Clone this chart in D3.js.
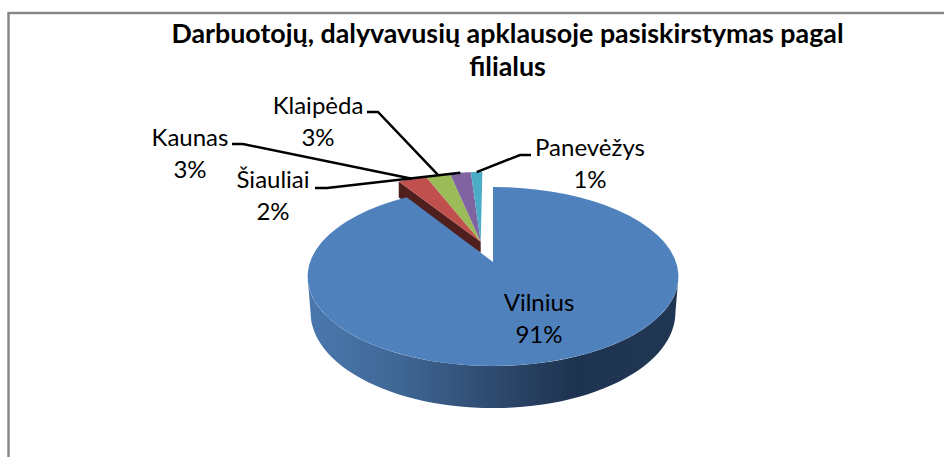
<!DOCTYPE html>
<html>
<head>
<meta charset="utf-8">
<script src="https://cdn.jsdelivr.net/npm/d3@7/dist/d3.min.js"></script>
<style>
html,body{margin:0;padding:0;background:#fff;}
svg{display:block;}
text{font-family:Lato,"Open Sans",sans-serif;fill:#000;}
</style>
</head>
<body>
<svg id="chart" width="944" height="457"></svg>
<script>
const titleLines = ["Darbuotojų, dalyvavusių apklausoje pasiskirstymas pagal", "filialus"];
const categories = ["Vilnius", "Kaunas", "Klaipėda", "Šiauliai", "Panevėžys"];
const values = [91, 3, 2.6, 2.2, 1.2];
const colors = ["#4f81bd", "#c0504d", "#9bbb59", "#8064a2", "#4bacc6"];

const svg = d3.select("#chart");
const cx = 493, persp = -0.162, R = 183;
const topMap = {a: 44.7, b: 262, r: R};
const botMap = {a: 45, b: 297, r: 180};
const explode = 0.25;

function project(u, v, m) {
  const w = 1 + persp * v;
  return [cx + m.r * u / w, (m.a * v + m.b) / w];
}
const pie = d3.pie().sort(null).value(d => d)(values);
const arcs = pie.map((p, i) => ({
  name: categories[i], value: values[i], color: colors[i],
  a0: p.startAngle, a1: p.endAngle, mid: (p.startAngle + p.endAngle) / 2
}));
const small = arcs.slice(1);
const gStart = small[0].a0, gEnd = small[small.length - 1].a1, gMid = (gStart + gEnd) / 2;
const off = [explode * Math.sin(gMid), -explode * Math.cos(gMid)];
const line = d3.line();

function rim(a, m, o) {
  return project(Math.sin(a) + o[0], -Math.cos(a) + o[1], m);
}
function rimPts(a0, a1, m, o) {
  return d3.range(0, 61).map(k => rim(a0 + (a1 - a0) * k / 60, m, o));
}
const main = arcs[0], none = [0, 0];

// chart frame (its right and bottom edges fall outside the picture)
svg.append("rect").attr("x", 8.5).attr("y", 13).attr("width", 960).attr("height", 470)
  .attr("fill", "#fff").attr("stroke", "#868686").attr("stroke-width", 2.4);

// exploded slices: side wall, then top faces
const apex = project(off[0], off[1], topMap);
const corner = rim(gStart, topMap, off);
const wallDepthApex = 11, wallDepthRim = 16;
svg.append("path")
  .attr("d", line([apex, corner, [corner[0], corner[1] + wallDepthRim], [apex[0], apex[1] + wallDepthApex]]) + "Z")
  .attr("fill", "#4f1f1e");
small.forEach(s => {
  svg.append("path")
    .attr("d", line([apex].concat(rimPts(s.a0, s.a1, topMap, off))) + "Z")
    .attr("fill", s.color);
});

// main slice outer wall with gradient
const grad = svg.append("defs").append("linearGradient").attr("id", "wall")
  .attr("gradientUnits", "userSpaceOnUse")
  .attr("x1", 310).attr("x2", 677).attr("y1", 0).attr("y2", 0);
[[0, "#4a78ae"], [0.25, "#3f6694"], [0.5, "#2e4a6e"], [0.72, "#1e3350"], [1, "#203754"]]
  .forEach(s => grad.append("stop").attr("offset", s[0]).attr("stop-color", s[1]));
function extreme(m, sign) {
  const as = d3.range(0, 721).map(k => k * Math.PI / 360);
  return sign > 0 ? d3.greatest(as, a => rim(a, m, none)[0]) : d3.least(as, a => rim(a, m, none)[0]);
}
const wallTop = rimPts(extreme(topMap, 1), extreme(topMap, -1), topMap, none);
const wallBot = rimPts(extreme(botMap, 1), extreme(botMap, -1), botMap, none).reverse();
svg.append("path").attr("d", line(wallTop.concat(wallBot)) + "Z").attr("fill", "url(#wall)");

// main slice top face
svg.append("path")
  .attr("d", line([project(0, 0, topMap)].concat(rimPts(main.a0, main.a1, topMap, none))) + "Z")
  .attr("fill", main.color);

// leader lines: label elbow, then slice rim
const leaders = {
  "Kaunas": [[232, 144], [243, 144]],
  "Klaipėda": [[367, 112], [378, 112]],
  "Šiauliai": [[315, 188], [327, 188]],
  "Panevėžys": [[531, 155], [520, 155]]
};
small.forEach(s => {
  svg.append("path")
    .attr("d", line(leaders[s.name].concat([rim(s.mid, topMap, off)])))
    .attr("fill", "none").attr("stroke", "#000").attr("stroke-width", 2.5);
});

// title
titleLines.forEach((t, i) => {
  svg.append("text").attr("x", 507.5).attr("y", [43, 76][i])
    .attr("text-anchor", "middle").attr("font-weight", 700).attr("font-size", 26.8).text(t);
});

// data labels
const labelPos = {
  "Vilnius": [539, 311], "Kaunas": [190, 146], "Klaipėda": [318, 114],
  "Šiauliai": [273, 188], "Panevėžys": [590, 156]
};
const total = d3.sum(values);
arcs.forEach(s => {
  const p = labelPos[s.name];
  const t = svg.append("text").attr("text-anchor", "middle").attr("font-size", 24);
  t.append("tspan").attr("x", p[0]).attr("y", p[1]).text(s.name);
  t.append("tspan").attr("x", p[0]).attr("y", p[1] + 32).text(Math.round(s.value / total * 100) + "%");
});
</script>
</body>
</html>
